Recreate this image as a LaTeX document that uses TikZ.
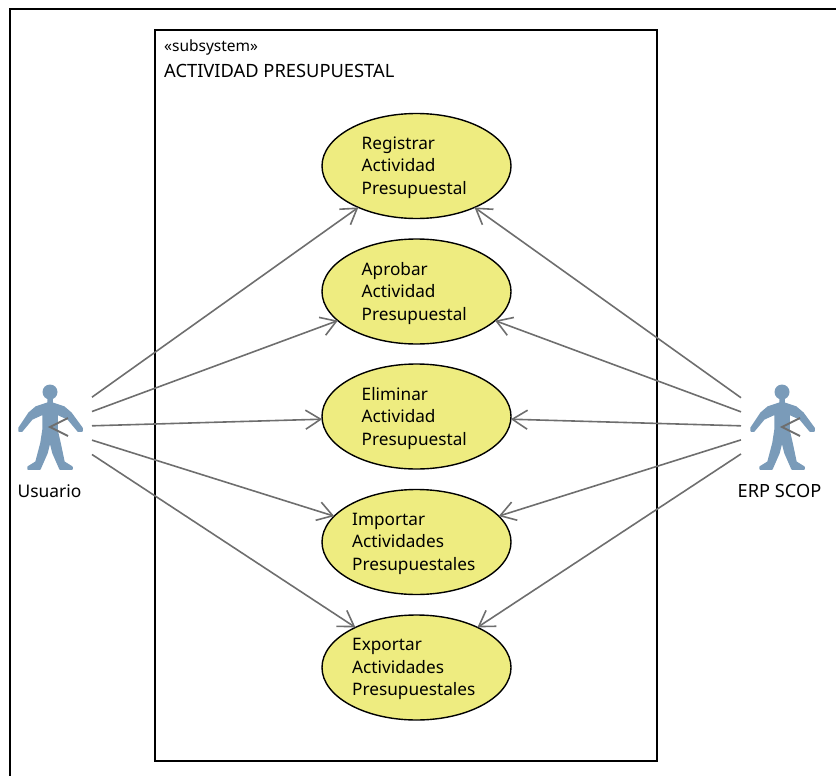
\documentclass[tikz,border=0pt]{standalone}
\usepackage{fontspec}
\setmainfont{Noto Sans}
\usetikzlibrary{shapes.geometric,arrows.meta}
\definecolor{ucfill}{RGB}{238,236,128}
\definecolor{actorblue}{RGB}{122,155,185}
\definecolor{conn}{RGB}{110,110,110}
\tikzset{
  x=1pt,y=-1pt,
  usecase/.style={draw=black,line width=1.4pt,fill=ucfill,ellipse,minimum width=189pt,minimum height=105pt,inner sep=0pt,outer sep=0pt},
  uctext/.style={align=left,font=\fontsize{17.2}{22.4}\selectfont,inner sep=0pt,anchor=north west,text=black},
  plain/.style={font=\fontsize{17.4}{20}\selectfont,inner sep=0pt,text=black},
  actorbox/.style={rectangle,minimum height=90pt,inner sep=0pt,outer sep=0pt},
  conn/.style={draw=conn,line width=1.6pt,-{Straight Barb[length=15pt,width=19pt,line width=1.6pt]}},
  pics/actor/.style={code={
    \fill[actorblue] (0,-35) circle (7.5);
    \filldraw[actorblue,line width=1.5pt,line join=round] (-2,-29) -- (-2,-24) -- (-14,-20) -- (-21,-14) -- (-31,1) -- (-31,4) -- (-28,4) -- (-18,-8) -- (-7,-13) -- (-7,3) -- (-9,16) -- (-14,35) -- (-22,40) -- (-22,42) -- (-10,42) -- (-3,26) -- (0,14) -- (3,26) -- (10,42) -- (22,42) -- (22,40) -- (14,35) -- (10,16) -- (7,3) -- (7,-13) -- (18,-8) -- (28,4) -- (32,4) -- (32,1) -- (21,-14) -- (14,-20) -- (2,-24) -- (2,-29) -- cycle;
    \draw[conn,line width=2pt,-] (18,-9) -- (0,0) -- (18,9);
  }}
}
\begin{document}
\begin{tikzpicture}
\useasboundingbox (0,0) rectangle (836,776);
\draw[black,line width=2pt] (10,776) -- (10,9.5) -- (836,9.5);
\node[draw=black,line width=1.3pt,rectangle,minimum width=502pt,minimum height=731pt,inner sep=0pt,outer sep=0pt,anchor=north west] (sys) at (155,30) {};
\node[plain,anchor=west,font=\fontsize{15.5}{17}\selectfont] (stereo) at (164,47.5) {«subsystem»};
\node[plain,anchor=west,font=\fontsize{18.3}{20}\selectfont] (sysname) at (164,70.5) {ACTIVIDAD PRESUPUESTAL};

\pic at (50,427) {actor};
\pic at (782,427) {actor};
\node[actorbox,minimum width=84pt] (usuario) at (50,427) {};
\node[actorbox,minimum width=82pt] (erp) at (782,427) {};
\node[plain] (usuariolabel) at (49.5,491.5) {Usuario};
\node[plain,font=\fontsize{18.2}{20}\selectfont] (erplabel) at (779.5,490.5) {ERP SCOP};

\node[usecase] (uc1) at (416.5,166) {};
\node[usecase] (uc2) at (416.5,291.5) {};
\node[usecase] (uc3) at (416.5,416.5) {};
\node[usecase] (uc4) at (416.5,542) {};
\node[usecase] (uc5) at (416.5,667.5) {};

\node[uctext] (t1) at (361.5,136.5) {Registrar\\Actividad\\Presupuestal};
\node[uctext] (t2) at (361.5,262) {Aprobar\\Actividad\\Presupuestal};
\node[uctext] (t3) at (361.5,387) {Eliminar\\Actividad\\Presupuestal};
\node[uctext] (t4) at (352,513) {Importar\\Actividades\\Presupuestales};
\node[uctext] (t5) at (352,638.5) {Exportar\\Actividades\\Presupuestales};

\foreach \a in {usuario,erp}
  \foreach \u in {uc1,uc2,uc3,uc4,uc5}
    \draw[conn] (\a) -- (\u);
\end{tikzpicture}
\end{document}
